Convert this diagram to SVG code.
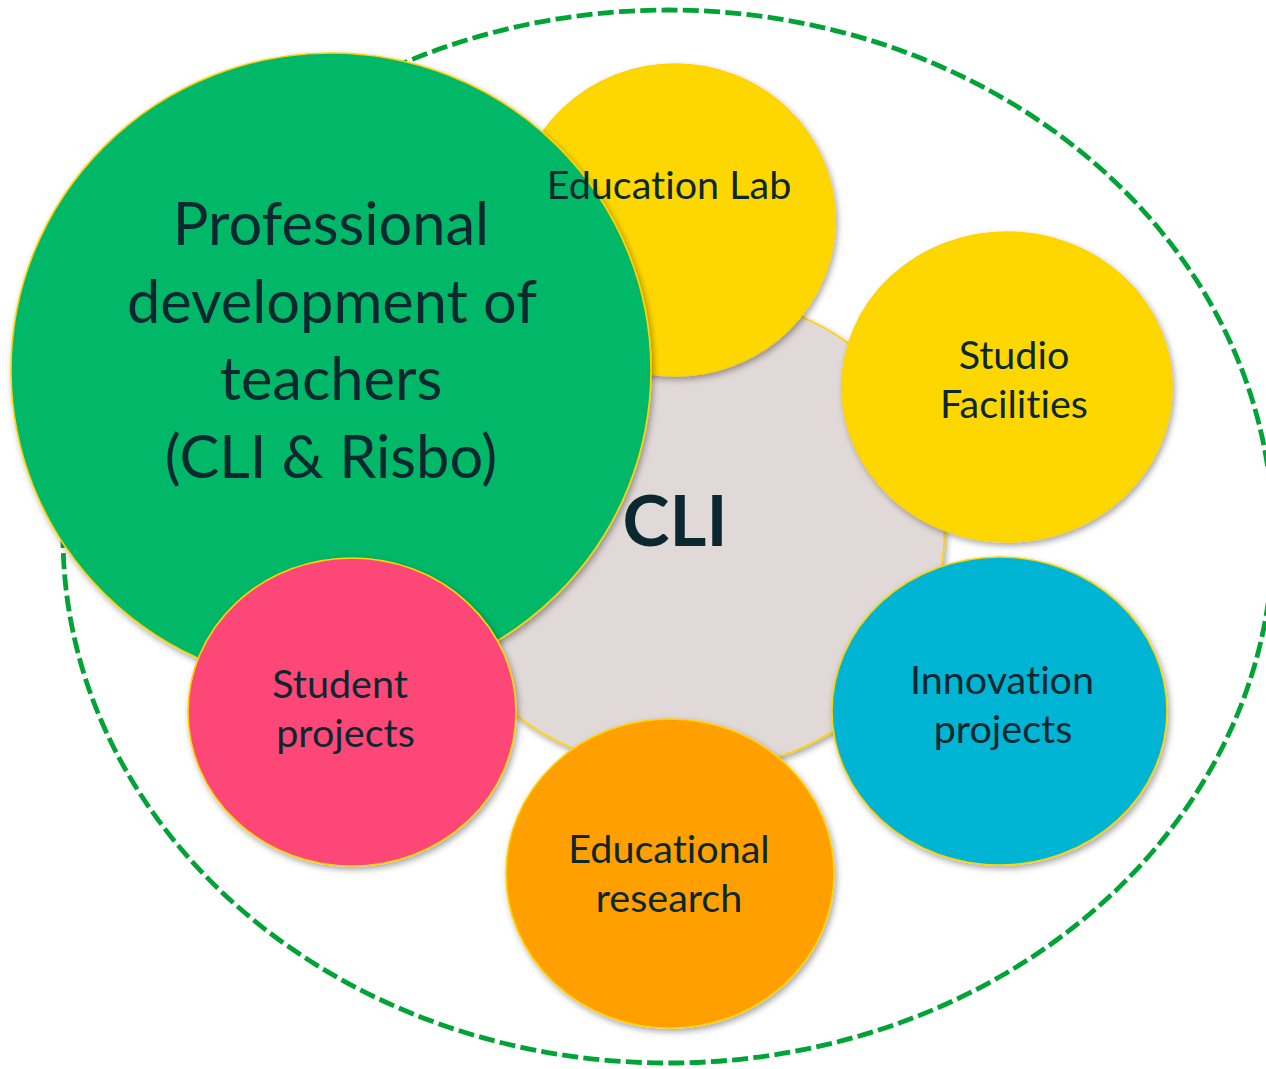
<svg xmlns="http://www.w3.org/2000/svg" width="1266" height="1069" viewBox="0 0 1266 1069">
  <defs>
    <filter id="shadow" x="-10%" y="-10%" width="125%" height="125%">
      <feDropShadow dx="2" dy="3" stdDeviation="3" flood-color="#000000" flood-opacity="0.35"/>
    </filter>
  </defs>
  <style>
    .node { stroke: #FFD200; stroke-width: 1.6; filter: url(#shadow); }
    .lbl { font-family: Lato, "Open Sans", sans-serif; fill: #0B2730; text-anchor: middle; font-variant-ligatures: none; font-feature-settings: "liga" 0, "clig" 0; }
    .big { font-size: 59.5px; }
    .mid { font-size: 39.5px; }
    .core { font-size: 71px; font-weight: bold; }
  </style>
  <rect width="1266" height="1069" fill="#FFFFFF"/>
  <g id="boundary">
    <ellipse cx="668" cy="536.5" rx="605" ry="526.5" fill="none" stroke="#00A335" stroke-width="4.8" stroke-dasharray="16 5.3"/>
  </g>
  <g id="connectors"></g>
  <g id="cli">
    <path class="node" fill="#E1D9D7" d="M 690,290 A 245 245 0 0 1 800,316 A 245 245 0 0 1 848,343 A 245 245 0 0 1 944,546 A 245 245 0 0 1 832,732 A 245 245 0 0 1 778,757 A 245 245 0 0 1 690,776 A 245 245 0 0 1 572,748 A 245 245 0 0 1 517,716 A 245 245 0 0 1 498,643 A 245 245 0 0 1 455,530 A 245 245 0 0 1 520,360 A 245 245 0 0 1 690,290 Z"/>
    <text class="lbl core" x="675" y="546">CLI</text>
  </g>
  <g id="education-lab">
    <ellipse class="node" cx="675" cy="220" rx="160" ry="156" fill="#FFD700"/>
  </g>
  <g id="studio-facilities">
    <ellipse class="node" cx="1007" cy="387" rx="165" ry="155" fill="#FFD700"/>
    <text class="lbl mid" x="1014" y="369">Studio</text>
    <text class="lbl mid" x="1014" y="418">Facilities</text>
  </g>
  <g id="innovation-projects">
    <ellipse class="node" cx="999.5" cy="711" rx="167.5" ry="154" fill="#00B4D3"/>
    <text class="lbl mid" x="1002" y="694">Innovation</text>
    <text class="lbl mid" x="1003" y="743">projects</text>
  </g>
  <g id="educational-research">
    <ellipse class="node" cx="670" cy="873.5" rx="164" ry="154.5" fill="#FFA000"/>
    <text class="lbl mid" x="669" y="863">Educational</text>
    <text class="lbl mid" x="669" y="912">research</text>
  </g>
  <g id="professional-development">
    <ellipse class="node" cx="331" cy="370" rx="320" ry="317" fill="#02B868"/>
    <text class="lbl big" x="331" y="245">Professional</text>
    <text class="lbl big" x="332" y="323">development of</text>
    <text class="lbl big" x="331" y="400">teachers</text>
    <text class="lbl big" x="331" y="478">(CLI &amp; Risbo)</text>
  </g>
  <g id="student-projects">
    <ellipse class="node" cx="352" cy="712" rx="164" ry="154" fill="#FC4677"/>
    <text class="lbl mid" x="340" y="698">Student</text>
    <text class="lbl mid" x="345.5" y="747">projects</text>
  </g>
  <g id="education-lab-label">
    <text class="lbl mid" x="669" y="199">Education Lab</text>
  </g>
</svg>
